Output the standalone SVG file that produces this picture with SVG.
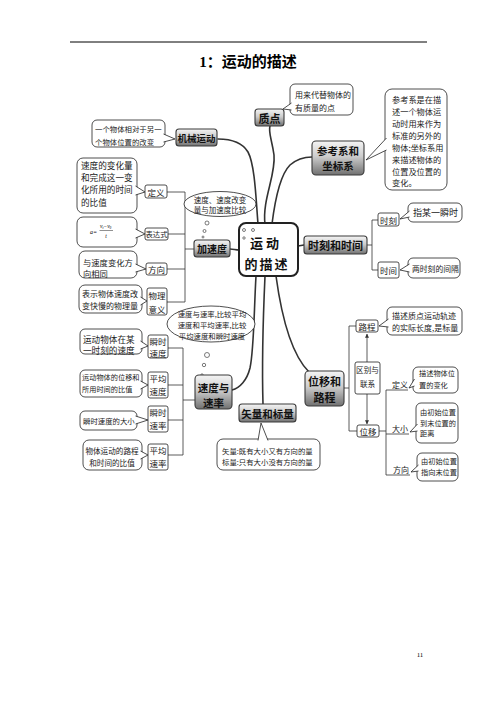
<svg xmlns="http://www.w3.org/2000/svg" width="496" height="702" viewBox="0 0 496 702">
<defs>
<linearGradient id="g" x1="0" y1="0" x2="0" y2="1">
<stop offset="0" stop-color="#f4f4f4"/>
<stop offset="0.45" stop-color="#cdcdcd"/>
<stop offset="1" stop-color="#707070"/>
</linearGradient>
<marker id="ar" viewBox="0 0 6 6" refX="5.5" refY="3" markerWidth="5" markerHeight="5" orient="auto">
<path d="M0,0 L6,3 L0,6 Z" fill="#333"/>
</marker>
<style>
.n{fill:url(#g);stroke:#3a3a3a;stroke-width:1.1}
.nt{font-family:"Noto Sans CJK SC","Noto Sans",sans-serif;font-weight:bold;fill:#111;text-anchor:middle;dominant-baseline:central}
.cb{fill:#fff;stroke:#222;stroke-width:0.8}
.ct{font-family:"Noto Sans CJK SC","Noto Sans",sans-serif;fill:#222;dominant-baseline:central}
.lb{fill:#fff;stroke:#222;stroke-width:0.8}
.lt{font-family:"Noto Sans CJK SC","Noto Sans",sans-serif;fill:#222;text-anchor:middle;dominant-baseline:central;font-size:8.5px}
.br{fill:none;stroke:#333;stroke-width:0.8}
.bc{fill:none;stroke:#333;stroke-width:1.6;stroke-linecap:round}
.bub{fill:#fff;stroke:#444;stroke-width:0.7}
</style>
</defs>
<rect width="496" height="702" fill="#fff"/>
<path d="M70,42 H427" stroke="#000" stroke-width="1"/>
<text x="248" y="62" font-family="Liberation Serif,'Noto Sans CJK SC',serif" font-weight="bold" font-size="15" text-anchor="middle" dominant-baseline="central">1：运动的描述</text>
<text x="420" y="657" font-family="Liberation Serif,serif" font-size="7" text-anchor="middle">11</text>

<g id="connectors">
<path class="bc" d="M258,224 C256,200 255,165 248,152 C242,142 232,139 218,139"/>
<path class="bc" d="M265,224 C262,200 276,175 274,155 C272,140 268,132 270,126"/>
<path class="bc" d="M272,224 C275,200 280,175 290,165 C298,158 305,157 312,157"/>
<path class="bc" d="M239,250 C236,250 233,249 230,249"/>
<path class="bc" d="M298,246 L304,245"/>
<path class="bc" d="M256,276 C254,310 254,350 250,368 C247,380 240,388 232,390"/>
<path class="bc" d="M265,276 C263,320 262,370 263,404"/>
<path class="bc" d="M276,276 C282,320 292,355 309,372"/>
<path class="br" d="M185,192 V302 M167,192 H185 M168,234 H185 M167,269 H185 M167,302 H185 M185,249 H194"/>
<path class="br" d="M183,348 V455 M168,348 H183 M168,385 H183 M168,420 H183 M168,455 H183 M183,400 H195"/>
<path class="br" d="M367,245 H372 M372,220 V270 M372,220 H378 M372,270 H378"/>
<path class="br" d="M344,388 H349 M349,326 V431 M349,326 H356 M349,431 H357"/>
<path class="br" d="M379,431 H386 M386,390 V475 M386,390 H408 M386,434 H409 M386,475 H410"/>
<path class="br" d="M367,362 V334" marker-end="url(#ar)"/>
<path class="br" d="M367,394 V424" marker-end="url(#ar)"/>
</g>

<g id="center">
<rect x="239" y="223" width="59" height="53" rx="7" fill="#fff" stroke="#222" stroke-width="2"/>
<circle cx="244" cy="230" r="1.5" class="bub"/>
<circle cx="253" cy="230" r="1.5" class="bub"/>
<circle cx="244" cy="238" r="1.2" class="bub"/>
<text x="266" y="242" class="nt" font-size="13" letter-spacing="3">运动</text>
<text x="267" y="263" class="nt" font-size="13" letter-spacing="2">的描述</text>
</g>

<g id="zhidian">
<rect class="n" x="255" y="109" width="29" height="17" rx="3"/>
<text class="nt" x="269.5" y="117.5" font-size="11">质点</text>
</g>
<g id="zhidian-note">
<rect class="cb" x="290" y="84" width="63" height="31" rx="5"/>
<polyline class="cb" points="291.5,103 283,109 291.5,110"/>
<text class="ct" x="295" y="94" font-size="8">用来代替物体的</text>
<text class="ct" x="295" y="107" font-size="8">有质量的点</text>
</g>

<g id="jixie">
<rect class="n" x="176" y="129" width="41" height="17" rx="3"/>
<text class="nt" x="196.5" y="137.5" font-size="9.5">机械运动</text>
</g>
<g id="jixie-note">
<rect class="cb" x="92" y="120" width="73" height="27" rx="5"/>
<polyline class="cb" points="163.5,134 175,139 163.5,142"/>
<text class="ct" x="95" y="128" font-size="7.4">一个物体相对于另一</text>
<text class="ct" x="95" y="141" font-size="7.4">个物体位置的改变</text>
</g>

<g id="cankao">
<rect class="n" x="312" y="141" width="52" height="34" rx="4"/>
<text class="nt" x="338" y="150.5" font-size="10.5">参考系和</text>
<text class="nt" x="338" y="165.5" font-size="10.5">坐标系</text>
</g>
<g id="cankao-note">
<rect class="cb" x="385" y="89" width="62" height="101" rx="7"/>
<polyline class="cb" points="386.5,138 366,160 386.5,150"/>
<g class="ct" font-size="8.2">
<text x="392" y="99">参考系是在描</text>
<text x="392" y="111">述一个物体运</text>
<text x="392" y="123">动时用来作为</text>
<text x="392" y="135">标准的另外的</text>
<text x="392" y="147">物体;坐标系用</text>
<text x="392" y="159">来描述物体的</text>
<text x="392" y="171">位置及位置的</text>
<text x="392" y="182">变化。</text>
</g>
</g>

<g id="jiasudu">
<rect class="n" x="194" y="240" width="36" height="17" rx="3"/>
<text class="nt" x="212" y="248.5" font-size="10">加速度</text>
</g>
<g id="jiasudu-bubble">
<ellipse class="cb" cx="220" cy="204" rx="36" ry="12.5"/>
<text class="ct" x="220" y="199" font-size="7.5" text-anchor="middle">速度、速度改变</text>
<text class="ct" x="220" y="209" font-size="7.5" text-anchor="middle">量与加速度比较</text>
<circle class="bub" cx="207" cy="223" r="2"/>
<circle class="bub" cx="204.5" cy="231" r="1.5"/>
<circle class="bub" cx="203" cy="237" r="1"/>
</g>
<g id="dingyi">
<rect class="lb" x="145" y="185" width="22" height="13" rx="2"/>
<text class="lt" x="156" y="191.5">定义</text>
<rect class="cb" x="77" y="158" width="60" height="55" rx="6"/>
<polyline class="cb" points="135.5,186 145,192 135.5,195"/>
<g class="ct" font-size="8.6">
<text x="81" y="165">速度的变化量</text>
<text x="81" y="177">和完成这一变</text>
<text x="81" y="189">化所用的时间</text>
<text x="81" y="202">的比值</text>
</g>
</g>
<g id="biaodashi">
<rect class="lb" x="145" y="228" width="23" height="12" rx="2"/>
<text class="lt" x="156.5" y="234" style="font-size:7.3px">表达式</text>
<rect class="cb" x="77" y="217" width="60" height="30" rx="6"/>
<polyline class="cb" points="135.5,229 145,234 135.5,238"/>
<text x="90" y="232" font-family="Liberation Serif,serif" font-size="6" font-style="italic" dominant-baseline="central">a=</text>
<text x="100" y="228" font-family="Liberation Serif,serif" font-size="5.5" font-style="italic">v<tspan font-size="3.5" dy="1">t</tspan><tspan dy="-1">−v</tspan><tspan font-size="3.5" dy="1">0</tspan></text>
<path d="M99.5,230.5 H113" stroke="#222" stroke-width="0.5"/>
<text x="106" y="238" font-family="Liberation Serif,serif" font-size="5.5" font-style="italic" text-anchor="middle">t</text>
</g>
<g id="fangxiang">
<rect class="lb" x="146" y="263" width="21" height="12" rx="2"/>
<text class="lt" x="156.5" y="269">方向</text>
<rect class="cb" x="79" y="251" width="58" height="27" rx="6"/>
<polyline class="cb" points="135.5,264 146,269 135.5,272"/>
<text class="ct" x="83" y="262" font-size="8.3">与速度变化方</text>
<text class="ct" x="83" y="273" font-size="8.3">向相同</text>
</g>
<g id="wuliyiyi">
<rect class="lb" x="147" y="288" width="20" height="27" rx="2"/>
<text class="lt" x="157" y="295">物理</text>
<text class="lt" x="157" y="308.5">意义</text>
<rect class="cb" x="79" y="285" width="63" height="28" rx="6"/>
<polyline class="cb" points="140.5,297 147,301 140.5,305"/>
<text class="ct" x="82" y="293" font-size="8">表示物体速度改</text>
<text class="ct" x="82" y="305" font-size="8">变快慢的物理量</text>
</g>

<g id="shike-shijian">
<rect class="n" x="304" y="236" width="63" height="18" rx="3"/>
<text class="nt" x="335.5" y="245" font-size="11">时刻和时间</text>
</g>
<g id="shike">
<rect class="lb" x="378" y="213" width="21" height="13" rx="2"/>
<text class="lt" x="388.5" y="219.5">时刻</text>
<rect class="cb" x="408" y="203" width="54" height="19" rx="5"/>
<polyline class="cb" points="409.5,211 400,219 409.5,217"/>
<text class="ct" x="413" y="212.5" font-size="9">指某一瞬时</text>
</g>
<g id="shijian">
<rect class="lb" x="378" y="262" width="21" height="16" rx="2"/>
<text class="lt" x="388.5" y="270">时间</text>
<rect class="cb" x="408" y="258" width="52" height="20" rx="5"/>
<polyline class="cb" points="409.5,264 400,270 409.5,272"/>
<text class="ct" x="412" y="268" font-size="7.8">两时刻的间隔</text>
</g>

<g id="sudu-bubble">
<ellipse class="cb" cx="211" cy="324" rx="44" ry="18"/>
<g class="ct" font-size="7.4" text-anchor="middle">
<text x="212" y="313">速度与速率,比较平均</text>
<text x="212" y="324">速度和平均速率,比较</text>
<text x="212" y="335">平均速度和瞬时速度</text>
</g>
<circle class="bub" cx="207" cy="355" r="2.5"/>
<circle class="bub" cx="204" cy="365" r="1.7"/>
<circle class="bub" cx="202" cy="375" r="1.2"/>
</g>
<g id="sudu">
<rect class="n" x="195" y="375" width="37" height="34" rx="4"/>
<text class="nt" x="213.5" y="387" font-size="10.5">速度与</text>
<text class="nt" x="213.5" y="402" font-size="10.5">速率</text>
</g>
<g id="shunshisudu">
<rect class="lb" x="148" y="335" width="20" height="23" rx="2"/>
<text class="lt" x="158" y="341">瞬时</text>
<text class="lt" x="158" y="352.5">速度</text>
<rect class="cb" x="80" y="329" width="62" height="25" rx="5"/>
<polyline class="cb" points="140.5,341 148,346 140.5,349"/>
<text class="ct" x="83" y="339" font-size="8.6">运动物体在某</text>
<text class="ct" x="83" y="350" font-size="8.6">一时刻的速度</text>
</g>
<g id="pingjunsudu">
<rect class="lb" x="148" y="372" width="20" height="26" rx="2"/>
<text class="lt" x="158" y="378">平均</text>
<text class="lt" x="158" y="391">速度</text>
<rect class="cb" x="80" y="370" width="62" height="27" rx="5"/>
<polyline class="cb" points="140.5,381 148,385 140.5,389"/>
<text class="ct" x="82" y="377" font-size="7.2">运动物体的位移和</text>
<text class="ct" x="82" y="389" font-size="7.2">所用时间的比值</text>
</g>
<g id="shunshisulv">
<rect class="lb" x="148" y="406" width="20" height="26" rx="2"/>
<text class="lt" x="158" y="412">瞬时</text>
<text class="lt" x="158" y="425">速率</text>
<rect class="cb" x="80" y="411" width="57" height="19" rx="5"/>
<polyline class="cb" points="135.5,416 148,420 135.5,424"/>
<text class="ct" x="83" y="420.5" font-size="7.4">瞬时速度的大小</text>
</g>
<g id="pingjunsulv">
<rect class="lb" x="148" y="444" width="20" height="26" rx="2"/>
<text class="lt" x="158" y="450">平均</text>
<text class="lt" x="158" y="463">速率</text>
<rect class="cb" x="83" y="440" width="59" height="30" rx="6"/>
<polyline class="cb" points="140.5,451 148,455 140.5,459"/>
<text class="ct" x="112" y="450" font-size="7.6" text-anchor="middle">物体运动的路程</text>
<text class="ct" x="112" y="462" font-size="7.6" text-anchor="middle">和时间的比值</text>
</g>

<g id="shiliang">
<rect class="n" x="239" y="404" width="57" height="18" rx="3"/>
<text class="nt" x="267.5" y="413" font-size="10.5">矢量和标量</text>
</g>
<g id="shiliang-note">
<rect class="cb" x="217" y="439" width="103" height="31" rx="6"/>
<polyline class="cb" points="258,440.5 261,423 268,440.5"/>
<text class="ct" x="222" y="450" font-size="7.4">矢量:既有大小又有方向的量</text>
<text class="ct" x="222" y="461" font-size="7.4">标量:只有大小没有方向的量</text>
</g>

<g id="weiyi-lucheng">
<rect class="n" x="305" y="371" width="39" height="35" rx="4"/>
<text class="nt" x="324.5" y="381" font-size="11">位移和</text>
<text class="nt" x="324.5" y="397" font-size="11">路程</text>
</g>
<g id="lucheng">
<rect class="lb" x="356" y="320" width="22" height="12" rx="2"/>
<text class="lt" x="367" y="326">路程</text>
<rect class="cb" x="387" y="307" width="75" height="28" rx="5"/>
<polyline class="cb" points="388.5,319 379,326 388.5,327"/>
<text class="ct" x="392" y="315" font-size="8">描述质点运动轨迹</text>
<text class="ct" x="392" y="327" font-size="8">的实际长度,是标量</text>
</g>
<g id="qubie">
<rect class="lb" x="355" y="362" width="25" height="32" rx="2"/>
<text class="lt" x="367.5" y="369" style="font-size:7.6px">区别与</text>
<text class="lt" x="367.5" y="383" style="font-size:7.6px">联系</text>
</g>
<g id="weiyi">
<rect class="lb" x="357" y="425" width="22" height="12" rx="2"/>
<text class="lt" x="368" y="431">位移</text>
</g>
<g id="weiyi-dingyi">
<text class="lt" x="400" y="384.5" style="font-size:8px">定义</text>
<rect class="cb" x="413" y="367" width="45" height="26" rx="5"/>
<polyline class="cb" points="414.5,379 409,388 414.5,386"/>
<text class="ct" x="419" y="373" font-size="7.2">描述物体位</text>
<text class="ct" x="419" y="385" font-size="7.2">置的变化</text>
</g>
<g id="weiyi-daxiao">
<text class="lt" x="400" y="428.5" style="font-size:8px">大小</text>
<rect class="cb" x="416" y="403" width="42" height="40" rx="5"/>
<polyline class="cb" points="417.5,424 410,432 417.5,431"/>
<text class="ct" x="420" y="412" font-size="7.2">由初始位置</text>
<text class="ct" x="420" y="422.5" font-size="7.2">到末位置的</text>
<text class="ct" x="420" y="433" font-size="7.2">距离</text>
</g>
<g id="weiyi-fangxiang">
<text class="lt" x="401" y="469.5" style="font-size:8px">方向</text>
<rect class="cb" x="417" y="453" width="41" height="28" rx="5"/>
<polyline class="cb" points="418.5,465 411,472 418.5,471"/>
<text class="ct" x="421" y="460.5" font-size="7.2">由初始位置</text>
<text class="ct" x="421" y="471.5" font-size="7.2">指向末位置</text>
</g>
</svg>
